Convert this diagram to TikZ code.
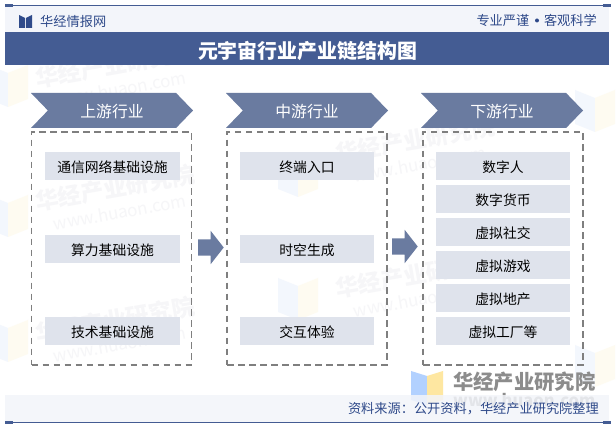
\documentclass[tikz,border=0pt]{standalone}
\usepackage{fontspec}
\setmainfont{Noto Sans CJK SC}
\usetikzlibrary{positioning, shapes, shapes.arrows, shapes.symbols}
\definecolor{band}{HTML}{445C93}
\definecolor{pale}{HTML}{F3F5FA}
\definecolor{chev}{HTML}{6A7BA0}
\definecolor{item}{HTML}{DFE3EC}
\definecolor{dash}{HTML}{7F7F7F}
\definecolor{ink}{HTML}{2F4A8A}
\definecolor{mark}{HTML}{F6F6F8}
\definecolor{bookblue}{HTML}{F3F7FD}
\definecolor{bookyellow}{HTML}{FEFBF1}
\tikzset{
  chevron/.style={signal,signal from=west,signal to=east,signal pointer angle=92,fill=chev,text=white,
    minimum width=162pt,minimum height=35pt,inner sep=0pt,text height=15pt,text depth=0pt,font=\fontsize{15.8pt}{15.8pt}\selectfont},
  itembox/.style={fill=item,minimum width=134.5pt,minimum height=28pt,inner sep=0pt,text height=13pt,text depth=0pt,font=\fontsize{13.8pt}{13.8pt}\selectfont},
  dashbox/.style={draw=dash,line width=1.7pt,dash pattern=on 6.5pt off 4.5pt,minimum width=160pt,minimum height=233pt,inner sep=0pt},
  blockarrow/.style={single arrow,fill=chev,anchor=tail,minimum height=25.5pt,single arrow head extend=8.5pt,single arrow tip angle=104,inner sep=0pt},
  inktext/.style={text=ink,inner sep=0pt,font=\fontsize{13.2pt}{13.2pt}\selectfont},
  wmark/.style={text=mark,rotate=10,inner sep=0pt,font=\bfseries\fontsize{23pt}{23pt}\selectfont},
  wsite/.style={text=mark,rotate=10,inner sep=0pt,font=\fontsize{17pt}{17pt}\selectfont},
}
\begin{document}
\begin{tikzpicture}[x=1pt,y=-1pt]
\useasboundingbox (0,0) rectangle (616,427);
\fill[white] (0,0) rectangle (616,427);

% watermarks
\foreach \i/\wx/\wy in {1/115/65,2/115/188,3/115/320,4/415/140,5/415/275}{
  \node[wmark] (wm\i) at (\wx,\wy) {华经产业研究院};
  \node[wsite] (ws\i) at (\wx+5,\wy+24) {www.huaon.com};
}
\foreach \wx/\wy in {8/85,8/215,8/340,298/175,298/298,595/110,595/365}{
  \fill[bookblue] (\wx-20,\wy-20) -- (\wx,\wy-12) -- (\wx,\wy+22) -- (\wx-20,\wy+14) -- cycle;
  \fill[bookyellow] (\wx+20,\wy-20) -- (\wx,\wy-12) -- (\wx,\wy+22) -- (\wx+20,\wy+14) -- cycle;
}

% logo
\fill[blue!60!cyan!30] (411,371) -- (427,376) -- (427,405) -- (411,400) -- cycle;
\fill[yellow!55!orange!35] (443,371) -- (427,376) -- (427,405) -- (443,400) -- cycle;
\node[text=black!45,inner sep=0pt,font=\bfseries\fontsize{20.3pt}{20.3pt}\selectfont,anchor=west] (logo) at (453,381.5) {华经产业研究院};
\node[text=black!45,inner sep=0pt,font=\bfseries\fontsize{16.5pt}{16.5pt}\selectfont,anchor=west] (site) at (453,400) {www.huaon.com};

% header and footer
\fill[pale] (5,5) rectangle (609,32);
\fill[pale,opacity=0.85] (5,395) rectangle (609,422);
\fill[band] (5,32) rectangle (609,65);
\draw[band,line width=0.8pt] (5,5.5) -- (611,5.5);
\draw[band,line width=0.8pt] (5,422.5) -- (611,422.5);
\fill[band] (5,4) rectangle (13,7);
\fill[band] (603,4) rectangle (611,7);
\fill[band] (603,421) rectangle (611,424);
\fill[band] (5,421) rectangle (13,424);
\fill[ink] (19,15) -- (25,18) -- (25,28) -- (19,28) -- cycle;
\fill[ink] (32,15) -- (26,18) -- (26,28) -- (32,28) -- cycle;

\node[inktext,anchor=west] (brand) at (40,21) {华经情报网};
\node[inktext,anchor=east] (motto1) at (529.5,20.5) {专业严谨};
\node[circle,fill=ink,inner sep=0pt,minimum size=4pt] (dot) at (537,20.5) {};
\node[inktext,anchor=east] (motto2) at (597,20.5) {客观科学};
\node[text=white,font=\bfseries\fontsize{19.9pt}{19.9pt}\selectfont] (title) at (307.5,51) {元宇宙行业产业链结构图};

% columns
\node[chevron] (up) at (112,110.5) {上游行业};
\node[chevron] (mid) at (307,110.5) {中游行业};
\node[chevron] (down) at (502,110.5) {下游行业};

\node[dashbox] (upbox) at (111.5,248.2) {};
\node[dashbox] (midbox) at (307,248.2) {};
\node[dashbox] (downbox) at (503,248.2) {};

\node[itembox] (u1) at (112.5,166) {通信网络基础设施};
\node[itembox] (u2) at (112.5,249) {算力基础设施};
\node[itembox] (u3) at (112.5,331.5) {技术基础设施};

\node[itembox] (m1) at (307,166) {终端入口};
\node[itembox] (m2) at (307,249) {时空生成};
\node[itembox] (m3) at (307,331.5) {交互体验};

\node[itembox] (d1) at (503,166) {数字人};
\node[itembox] (d2) at (503,199) {数字货币};
\node[itembox] (d3) at (503,232) {虚拟社交};
\node[itembox] (d4) at (503,265) {虚拟游戏};
\node[itembox] (d5) at (503,298) {虚拟地产};
\node[itembox] (d6) at (503,331.5) {虚拟工厂等};

\node[blockarrow] (a1) at (198,247.5) {\rule{0pt}{16pt}};
\node[blockarrow] (a2) at (392,246.5) {\rule{0pt}{16pt}};

\node[inktext,anchor=east] (source) at (599,409) {资料来源：公开资料，华经产业研究院整理};
\end{tikzpicture}
\end{document}
